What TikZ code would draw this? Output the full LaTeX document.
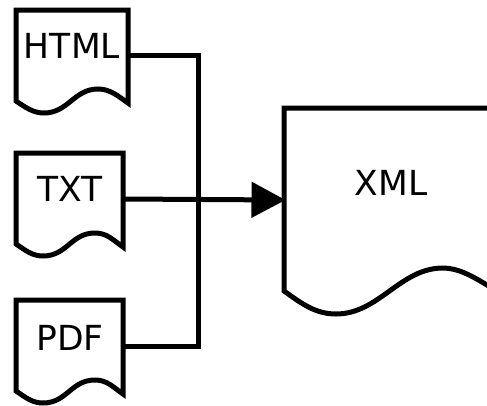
\documentclass[tikz,border=0pt]{standalone}
\usepackage{fontspec}
\setmainfont{DejaVu Sans}
\usetikzlibrary{arrows.meta}
\tikzset{
  docshape/.style={draw=black,line width=5pt,line join=miter,fill=white},
  doclabel/.style={inner sep=0pt,font=\fontsize{34.5}{34.5}\selectfont,text=black,anchor=center},
  wire/.style={draw=black,line width=5pt,line join=miter},
  feed/.style={draw=black,line width=5pt,-{Triangle[length=34pt,width=35pt]}}
}
\begin{document}
\begin{tikzpicture}[x=1pt,y=-1pt]
\useasboundingbox (0,0) rectangle (487,405);
\begin{scope}
\clip (0,0) rectangle (487,405);
% documents
\path[docshape] (16,101) -- (16,10) -- (128,10) -- (128,103)
  .. controls (118,96) and (110,89) .. (98,89)
  .. controls (74,89) and (68,113) .. (44,113)
  .. controls (33,113) and (25,107) .. cycle;
\path[docshape] (16,244) -- (16,153) -- (123,153) -- (123,247)
  .. controls (113,240) and (107,233) .. (95,233)
  .. controls (71,233) and (67,256) .. (43,256)
  .. controls (32,256) and (25,250) .. cycle;
\path[docshape] (16,391) -- (16,300) -- (123,300) -- (123,394)
  .. controls (113,387) and (107,380) .. (95,380)
  .. controls (71,380) and (67,403) .. (43,403)
  .. controls (32,403) and (25,397) .. cycle;
\path[docshape] (284,291) -- (284,108) -- (495,108) -- (495,290) -- (487,285)
  .. controls (472,276) and (458,268) .. (443,268)
  .. controls (400,268) and (379,314) .. (336,314)
  .. controls (315,314) and (301,303) .. cycle;
\end{scope}
\node[doclabel] (html) at (72,46) {HTML};
\node[doclabel] (txt) at (70,189) {TXT};
\node[doclabel] (pdf) at (70,338) {PDF};
\node[doclabel] (xml) at (391,183) {XML};
\coordinate (htmlport) at (128,55);
\coordinate (txtport) at (123,199);
\coordinate (pdfport) at (123,346);
\coordinate (xmlport) at (285.5,200);
\coordinate (busa) at (198,55);
\coordinate (busb) at (198,346);
\path[wire] (htmlport) -- (busa) -- (busb) -- (pdfport);
\path[feed] (txtport) -- (xmlport);
\end{tikzpicture}
\end{document}
